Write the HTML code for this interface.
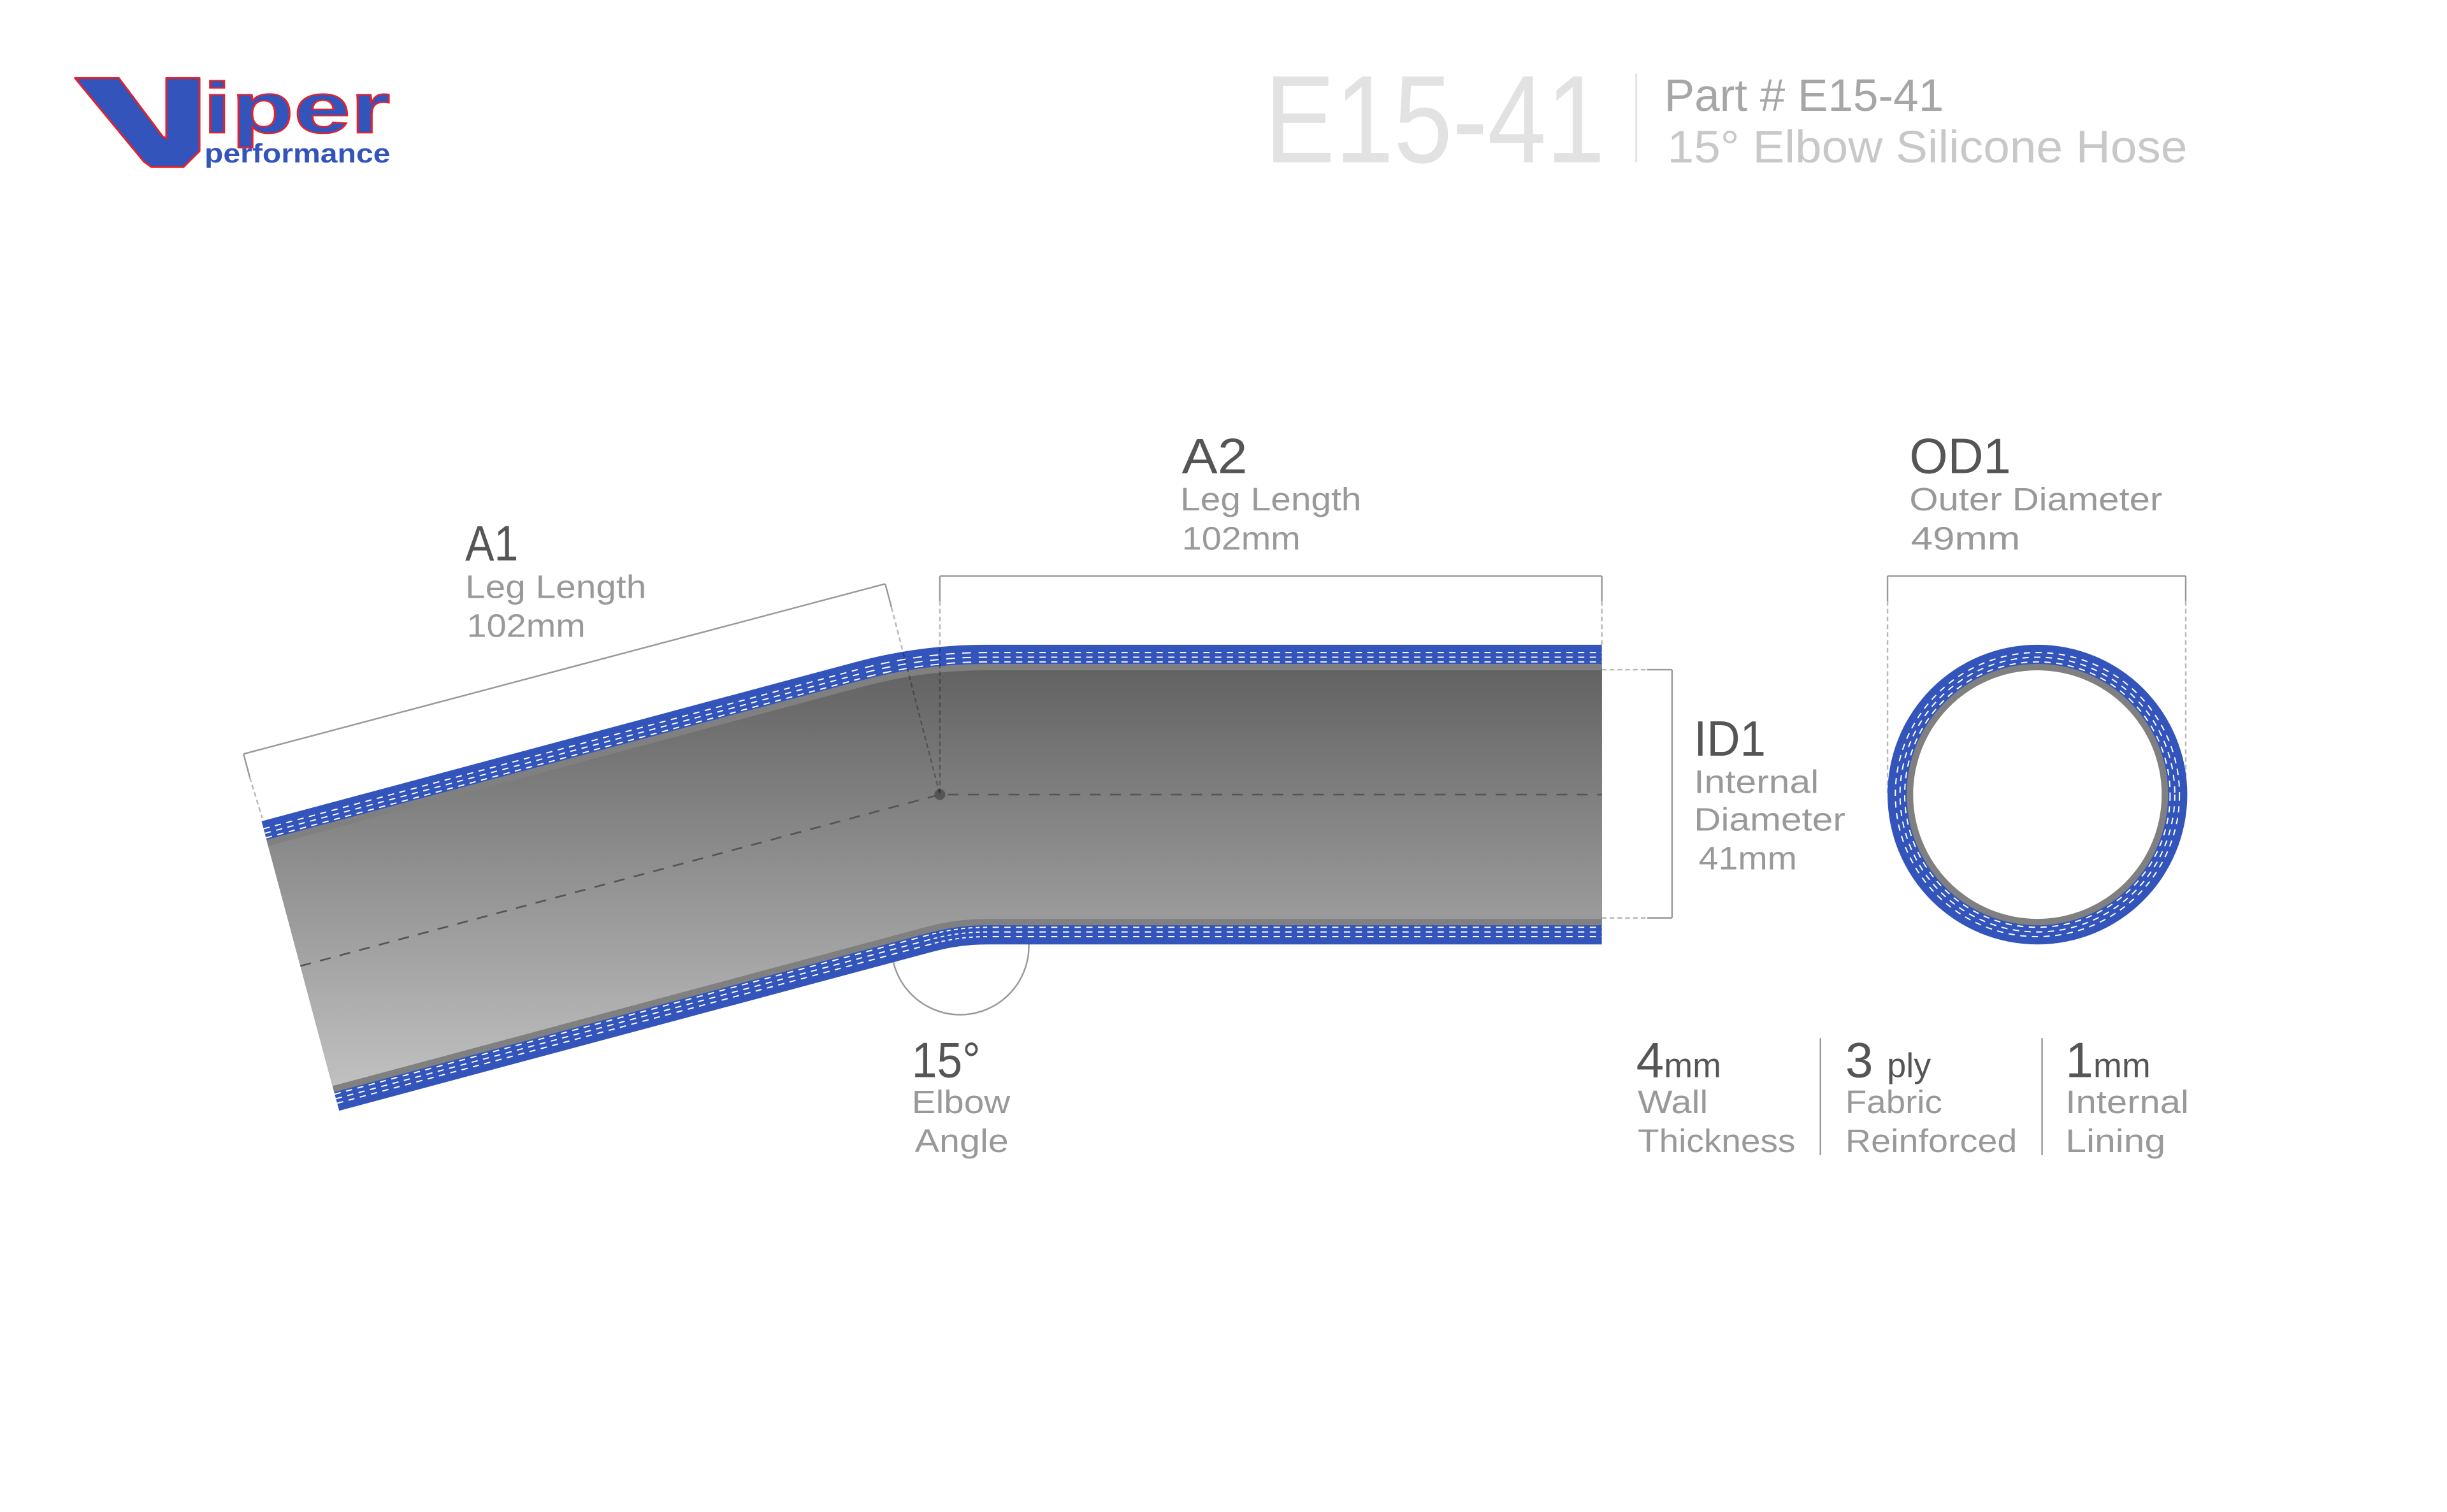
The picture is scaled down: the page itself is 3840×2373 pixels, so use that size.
<!DOCTYPE html>
<html><head><meta charset="utf-8"><style>
html,body{margin:0;padding:0;background:#fff;}
svg{display:block;}
text{font-family:"Liberation Sans",sans-serif;}
</style></head><body>
<svg width="3840" height="2373" viewBox="0 0 1567.35 968.57" xmlns="http://www.w3.org/2000/svg">
<defs>
<path id="c" d="M192.4,618.8 L573,516.8 Q602,509 632,509 L1026,509" fill="none"/>
<linearGradient id="g" gradientUnits="userSpaceOnUse" x1="0" y1="430" x2="0" y2="700">
<stop offset="0" stop-color="#636363"/><stop offset="1" stop-color="#c2c2c2"/></linearGradient>
</defs>

<!-- logo -->
<polygon points="48,50 76.1,50 104.1,87.3 106.5,88.7 106.5,50 127.8,50 127.8,96.8 117.5,107 97,107 92.2,103.6" fill="#3355bb" stroke="#e8202a" stroke-width="1.2" stroke-linejoin="round"/>
<text x="130" y="85" font-size="46" font-weight="bold" fill="#3355bb" stroke="#e8202a" stroke-width="0.9" textLength="120" lengthAdjust="spacingAndGlyphs">iper</text>
<text x="131" y="104" font-size="17" font-weight="bold" fill="#3355bb" textLength="119" lengthAdjust="spacingAndGlyphs">performance</text>

<!-- title -->
<text x="810" y="104" font-size="80" fill="#e2e2e2" textLength="218" lengthAdjust="spacingAndGlyphs">E15-41</text>
<line x1="1048" y1="47" x2="1048" y2="104" stroke="#ddd" stroke-width="1"/>
<text x="1066" y="71" font-size="29" fill="#a6a6a6" textLength="179" lengthAdjust="spacingAndGlyphs">Part # E15-41</text>
<text x="1068" y="104" font-size="29" fill="#c8c8c8" textLength="333" lengthAdjust="spacingAndGlyphs">15° Elbow Silicone Hose</text>

<!-- elbow arc -->
<circle cx="615" cy="606" r="44" fill="none" stroke="#999" stroke-width="1"/>

<!-- hose -->
<use href="#c" stroke="#3355bb" stroke-width="192"/>
<use href="#c" stroke="#fff" stroke-width="182.8" stroke-dasharray="4 3.5"/>
<use href="#c" stroke="#3355bb" stroke-width="181.2"/>
<use href="#c" stroke="#fff" stroke-width="176.8" stroke-dasharray="4 3.5"/>
<use href="#c" stroke="#3355bb" stroke-width="175.2"/>
<use href="#c" stroke="#fff" stroke-width="170.8" stroke-dasharray="4 3.5"/>
<use href="#c" stroke="#3355bb" stroke-width="169.2"/>
<use href="#c" stroke="#808080" stroke-width="167.4"/>
<use href="#c" stroke="url(#g)" stroke-width="159.2"/>

<!-- centerline -->
<polyline points="192.4,618.8 602,509 1026,509" fill="none" stroke="#555" stroke-width="1.1" stroke-dasharray="7 6"/>
<circle cx="602" cy="509" r="3.5" fill="#555"/>

<!-- brackets -->
<g stroke="#999" stroke-width="1" fill="none">
<line x1="156" y1="483" x2="567" y2="374"/>
<line x1="156" y1="483" x2="160" y2="498"/>
<line x1="567" y1="374" x2="571" y2="389"/>
<line x1="602" y1="369" x2="1026" y2="369"/>
<line x1="602" y1="369" x2="602" y2="385"/>
<line x1="1026" y1="369" x2="1026" y2="385"/>
<line x1="1071" y1="429" x2="1071" y2="588"/>
<line x1="1071" y1="429" x2="1055" y2="429"/>
<line x1="1071" y1="588" x2="1055" y2="588"/>
<line x1="1209" y1="369" x2="1400" y2="369"/>
<line x1="1209" y1="369" x2="1209" y2="385"/>
<line x1="1400" y1="369" x2="1400" y2="385"/>
</g>
<g stroke="rgba(0,0,0,0.28)" stroke-width="1" fill="none" stroke-dasharray="3 2">
<line x1="160" y1="498" x2="168" y2="524"/>
<line x1="571" y1="389" x2="602" y2="509"/>
<line x1="602" y1="385" x2="602" y2="509"/>
<line x1="1026" y1="385" x2="1026" y2="413"/>
<line x1="1026" y1="429" x2="1055" y2="429"/>
<line x1="1026" y1="588" x2="1055" y2="588"/>
<line x1="1209" y1="385" x2="1209" y2="509"/>
<line x1="1400" y1="385" x2="1400" y2="509"/>
</g>

<!-- ring -->
<circle cx="1305" cy="509" r="96" fill="#3355bb"/>
<g fill="none" stroke="#fff" stroke-width="0.8" stroke-dasharray="4 3.5">
<circle cx="1305" cy="509" r="91"/>
<circle cx="1305" cy="509" r="88"/>
<circle cx="1305" cy="509" r="85"/>
</g>
<circle cx="1305" cy="509" r="83.7" fill="#808080"/>
<circle cx="1305" cy="509" r="79.6" fill="#fff"/>

<!-- labels -->
<g font-size="21" fill="#999">
<text x="298" y="359" font-size="32" fill="#555" textLength="34" lengthAdjust="spacingAndGlyphs">A1</text>
<text x="298" y="383" textLength="116" lengthAdjust="spacingAndGlyphs">Leg Length</text>
<text x="299" y="408" textLength="76" lengthAdjust="spacingAndGlyphs">102mm</text>

<text x="757" y="303" font-size="32" fill="#555" textLength="42" lengthAdjust="spacingAndGlyphs">A2</text>
<text x="756" y="327" textLength="116" lengthAdjust="spacingAndGlyphs">Leg Length</text>
<text x="757" y="352" textLength="76" lengthAdjust="spacingAndGlyphs">102mm</text>

<text x="1223" y="303" font-size="32" fill="#555" textLength="65" lengthAdjust="spacingAndGlyphs">OD1</text>
<text x="1223" y="327" textLength="162" lengthAdjust="spacingAndGlyphs">Outer Diameter</text>
<text x="1224" y="352" textLength="70" lengthAdjust="spacingAndGlyphs">49mm</text>

<text x="1085" y="484" font-size="32" fill="#555" textLength="46" lengthAdjust="spacingAndGlyphs">ID1</text>
<text x="1085" y="508" textLength="80" lengthAdjust="spacingAndGlyphs">Internal</text>
<text x="1085" y="532" textLength="97" lengthAdjust="spacingAndGlyphs">Diameter</text>
<text x="1088" y="557" textLength="63" lengthAdjust="spacingAndGlyphs">41mm</text>

<text x="584" y="690" font-size="32" fill="#555" textLength="44" lengthAdjust="spacingAndGlyphs">15°</text>
<text x="584" y="713" textLength="63" lengthAdjust="spacingAndGlyphs">Elbow</text>
<text x="586" y="738" textLength="60" lengthAdjust="spacingAndGlyphs">Angle</text>

<text x="1048" y="690" fill="#555"><tspan font-size="32">4</tspan><tspan font-size="22">mm</tspan></text>
<text x="1049" y="713" textLength="45" lengthAdjust="spacingAndGlyphs">Wall</text>
<text x="1049" y="738" textLength="101" lengthAdjust="spacingAndGlyphs">Thickness</text>

<text x="1182" y="690" fill="#555"><tspan font-size="32">3 </tspan><tspan font-size="22">ply</tspan></text>
<text x="1182" y="713" textLength="62" lengthAdjust="spacingAndGlyphs">Fabric</text>
<text x="1182" y="738" textLength="110" lengthAdjust="spacingAndGlyphs">Reinforced</text>

<text x="1323" y="690" fill="#555"><tspan font-size="32">1</tspan><tspan font-size="22">mm</tspan></text>
<text x="1323" y="713" textLength="79" lengthAdjust="spacingAndGlyphs">Internal</text>
<text x="1323" y="738" textLength="64" lengthAdjust="spacingAndGlyphs">Lining</text>
</g>
<line x1="1166" y1="665" x2="1166" y2="740" stroke="#999" stroke-width="1"/>
<line x1="1308" y1="665" x2="1308" y2="740" stroke="#999" stroke-width="1"/>
</svg>
</body></html>
